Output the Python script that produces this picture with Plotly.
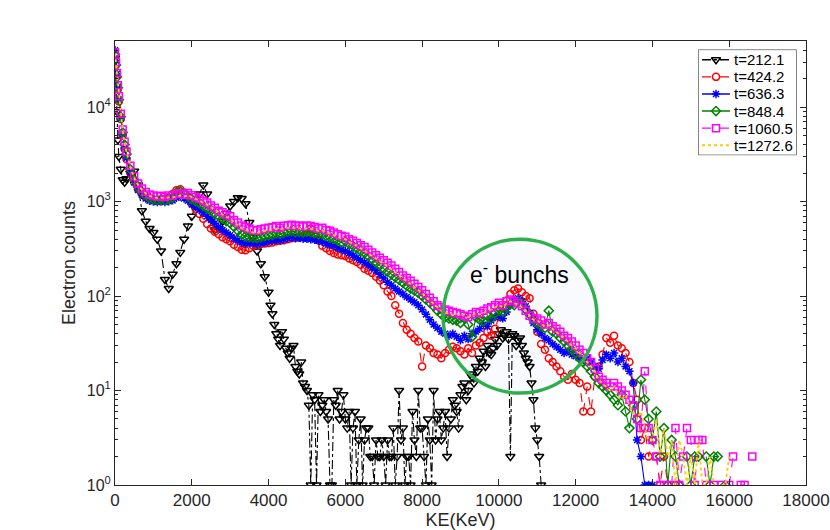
import plotly.graph_objects as go

# Energy bins (KeV)
ke = [0, 25, 50, 75, 100, 150, 200, 250, 300] + list(range(400, 16700, 100))
# extra half-bins read for the t=212.1 curve in its noisy tail
ke_mid = list(range(4050, 11100, 100))

labels = ["t=212.1", "t=424.2", "t=636.3", "t=848.4", "t=1060.5", "t=1272.6"]

t212 = [33000, 20000, 9000, 4500, 3000, 2200, 1700, 1600, 1750,
        2000, 2100, 1500, 800, 620, 520,
        470, 400, 300, 150, 120, 170, 220, 290, 400, 550,
        700, 900, 1200, 1500, 1200, 650, 500, 520, 620, 750,
        900, 1000, 1100, 1080, 950, 600, 420, 300, 220, 160,
        110, 65, 40, 30, 35, 25, 28, 18, 15, 12,
        10, 1, 8, 9, 7, 6, 1, 8, 10, 6,
        5, 6, 4, 1, 5, 3, 4, 2, 3, 2,
        2, 3, 2, 1, 10, 4, 2, 1, 3, 10,
        4, 1, 3, 10, 5, 3, 6, 4, 8, 6,
        9, 12, 10, 14, 18, 22, 26, 30, 24, 35,
        40, 36, 42, 2, 38, 34, 30, 22, 18, 8,
        3, 1]
t212_mid = [80, 50, 35, 42, 28, 22, 30, 16, 20, 11,
            7, 9, 1, 6, 8, 5, 1, 7, 5, 9,
            4, 1, 6, 3, 1, 4, 2, 1, 2, 3,
            1, 2, 4, 2, 3, 1, 2, 6, 2, 4,
            2, 5, 1, 3, 6, 4, 2, 5, 7, 4,
            11, 8, 15, 12, 16, 20, 18, 25, 28, 30,
            44, 38, 35, 40, 30, 36, 25, 20, 12, 4,
            2]

t424 = [35000, 28000, 21000, 15500, 11500, 7500, 5000, 3600, 2800,
        2000, 1600, 1350, 1200, 1110, 1060,
        1040, 1030, 1050, 1060, 1100, 1200, 1320, 1350, 1250, 1100,
        950, 840, 740, 660, 580, 520, 480, 450, 420, 400,
        380, 350, 330, 310, 305, 320, 340, 350, 355, 360,
        365, 370, 380, 385, 390, 400, 410, 415, 420, 430,
        450, 520, 430, 390, 340, 320, 300, 285, 275, 270,
        265, 250, 240, 230, 215, 195, 185, 175, 160, 146,
        130, 112, 100, 80, 65, 52, 44, 40, 36, 33,
        18, 30, 28, 25, 24, 22, 25, 27, 29, 28,
        26, 24, 28, 25, 30, 32, 36, 42, 38, 45,
        60, 75, 90, 105, 115, 120, 110, 100, 95, 65,
        42, 31, 27, 22, 20, 18, 16, 14, 13, 15,
        13, 12, 6, 11, 6, 14, 18, 24, 36, 32,
        38, 30, 28, 25, 20, 12, 8, 3, 4, 2,
        3, 2, 1, 2, 1, None, 1, 1]

t636 = [40000, 31000, 22500, 16500, 12000, 7600, 5100, 3700, 2900,
        2050, 1600, 1330, 1180, 1080, 1020,
        1000, 990, 1000, 990, 1010, 1030, 1100, 1130, 1080, 1020,
        930, 880, 820, 760, 700, 640, 590, 540, 500, 470,
        440, 410, 390, 370, 360, 365, 360, 355, 365, 370,
        380, 385, 395, 390, 400, 410, 420, 410, 415, 405,
        405, 400, 395, 385, 375, 360, 350, 340, 325, 312,
        300, 285, 270, 255, 240, 228, 215, 200, 186, 170,
        155, 140, 130, 120, 112, 105, 98, 92, 86, 80,
        72, 64, 56, 50, 46, 42, 40, 38, 40, 37,
        34, 38, 35, 40, 42, 45, 50, 48, 55, 60,
        62, 58, 68, 80, 90, 95, 88, 78, 66, 52,
        44, 40, 36, 34, 31, 29, 27, 25, 26, 24,
        23, 22, 21, 22, 20, 18, 17, 21, 24, 22,
        25, 20, 22, 18, 16, 12, 3, 2, 1, 1,
        1]

t848 = [36000, 28000, 21000, 16000, 12000, 7900, 5400, 4000, 3200,
        2200, 1700, 1430, 1270, 1160, 1090,
        1060, 1040, 1050, 1040, 1070, 1100, 1250, 1280, 1200, 1140,
        1060, 1010, 960, 900, 850, 800, 750, 700, 660, 620,
        590, 540, 490, 450, 430, 420, 415, 410, 420, 430,
        440, 445, 460, 455, 470, 480, 490, 475, 480, 470,
        480, 475, 465, 450, 455, 430, 420, 405, 385, 370,
        380, 355, 340, 320, 300, 285, 265, 245, 225, 210,
        195, 182, 170, 158, 148, 138, 128, 120, 114, 108,
        100, 92, 85, 78, 70, 64, 60, 58, 56, 55,
        52, 58, 50, 37, 60, 56, 54, 62, 58, 66,
        70, 68, 76, 82, 80, 88, 82, 72, 64, 56,
        52, 48, 46, 70, 42, 40, 36, 33, 30, 27,
        25, 22, 20, 18, 16, 14, 12, 11, 10, 9,
        8, 7, 9, 6, 4, 7, 5, 13, 8, 5,
        3, 6, 2, 4, 1, 3, 2, 1, None, 2,
        1, 2, 2, None, 2, 1, 2, 2, None, 1]

t1060 = [38000, 30000, 23000, 17000, 13000, 8500, 5800, 4300, 3400,
         2400, 1850, 1550, 1380, 1260, 1190,
         1160, 1130, 1150, 1120, 1160, 1150, 1200, 1220, 1180, 1230,
         1170, 1120, 1080, 1020, 980, 910, 860, 800, 770, 730,
         700, 640, 600, 560, 540, 520, 500, 495, 510, 520,
         530, 535, 550, 530, 555, 560, 570, 550, 560, 545,
         560, 550, 540, 520, 530, 500, 490, 470, 450, 435,
         425, 400, 385, 365, 345, 330, 310, 290, 270, 255,
         240, 225, 210, 195, 180, 165, 155, 145, 135, 125,
         115, 105, 96, 88, 80, 76, 72, 70, 68, 66,
         64, 62, 60, 64, 68, 66, 70, 74, 76, 80,
         85, 80, 88, 92, 88, 84, 78, 70, 62, 58,
         58, 55, 50, 52, 48, 45, 42, 38, 36, 33,
         30, 27, 25, 22, 20, 17, 14, 13, 12, 11,
         12, 11, 10, 9, 8, 7, 5, 4, 16, 4,
         3, 2, 1, 1, None, 1, 4, 1, 2, 4,
         3, 1, 3, 3, 1, None, 1, None, 1, None,
         1, 2, None, 1, 1, None, 2]

t1272 = [37000, 29000, 22000, 16500, 12500, 8200, 5600, 4100, 3300,
         2300, 1780, 1500, 1330, 1220, 1150,
         1110, 1090, 1100, 1080, 1110, 1100, 1140, 1160, 1130, 1170,
         1110, 1070, 1030, 970, 930, 870, 820, 770, 730, 690,
         660, 600, 560, 520, 500, 485, 470, 465, 480, 490,
         495, 500, 515, 505, 520, 525, 530, 520, 520, 510,
         520, 515, 505, 490, 495, 470, 460, 440, 420, 405,
         400, 375, 360, 340, 320, 305, 285, 265, 250, 235,
         220, 205, 192, 178, 166, 154, 144, 134, 126, 118,
         108, 98, 90, 82, 75, 70, 66, 66, 63, 65,
         62, 64, 60, 62, 66, 64, 66, 70, 72, 76,
         80, 76, 84, 88, 84, 82, 76, 70, 62, 56,
         55, 52, 47, 49, 45, 42, 39, 36, 33, 30,
         28, 25, 23, 20, 18, 16, 13, 12, 11, 10,
         11, 9, 8, 9, 7, 6, 5, 6, 4, 3,
         3, 5, 2, 4, 2, 3, 1, 3, 2, 1,
         2, 1, 3, 1, 1, 2, 1, None, 1, 1,
         2]

styles = [
    dict(color="black", dash="dashdot", symbol="triangle-down-open", size=8),
    dict(color="rgb(255,0,0)", dash="dash", symbol="circle-open", size=7),
    dict(color="rgb(0,0,255)", dash="solid", symbol="asterisk-open", size=7),
    dict(color="rgb(0,128,0)", dash="solid", symbol="diamond-open", size=7),
    dict(color="rgb(255,0,255)", dash="dash", symbol="square-open", size=7),
    dict(color="rgb(255,204,0)", dash="dot", symbol=None, size=0),
]

# merge the half-bin readings of t=212.1 into one sorted curve
black_pairs = sorted(list(zip(ke[:len(t212)], t212)) + list(zip(ke_mid, t212_mid)))
curves = [
    ([p[0] for p in black_pairs], [p[1] for p in black_pairs]),
    (ke[:len(t424)], t424),
    (ke[:len(t636)], t636),
    (ke[:len(t848)], t848),
    (ke[:len(t1060)], t1060),
    (ke[:len(t1272)], t1272),
]

fig = go.Figure()
for lab, (x, vals), st in zip(labels, curves, styles):
    if st["symbol"] is None:
        fig.add_trace(go.Scatter(x=x, y=vals, name=lab, mode="lines", showlegend=False,
                                 line=dict(color=st["color"], dash=st["dash"], width=1.8)))
    else:
        fig.add_trace(go.Scatter(x=x, y=vals, name=lab, mode="lines+markers", showlegend=False,
                                 line=dict(color=st["color"], dash=st["dash"], width=1.1),
                                 marker=dict(symbol=st["symbol"], size=st["size"], color=st["color"],
                                             line=dict(color=st["color"], width=1.5))))

axis_col = "#262626"
font_fam = "Liberation Sans, Arial, sans-serif"

ytickvals = [1, 10, 100, 1000, 10000]
yticktext = ["10<sup>0</sup>", "10<sup>1</sup>", "10<sup>2</sup>", "10<sup>3</sup>", "10<sup>4</sup>"]
yminor = [k * 10 ** d for d in range(0, 5) for k in range(2, 10)]
xtickvals = [0, 2000, 4000, 6000, 8000, 10000, 12000, 14000, 16000, 18000]
xticktext = [str(v) for v in xtickvals]

# Legend box drawn on a helper axis measured in pixels
LX0, LX1, LY0, LY1 = 698.3, 796.7, 49.3, 155.0
PL, PR, PT, PB = 115.0, 806.0, 40.7, 485.0
leg_rows = [59.5 + 17.1 * i for i in range(6)]

fig.update_layout(
    width=830, height=530,
    margin=dict(l=115, r=24, t=41, b=45, autoexpand=False),
    paper_bgcolor="white", plot_bgcolor="white",
    font=dict(family=font_fam, size=16, color=axis_col),
    showlegend=False,
    xaxis=dict(range=[0, 18000], tickmode="array", tickvals=xtickvals, ticktext=xticktext,
               ticks="inside", ticklen=6, tickcolor=axis_col, showline=True,
               linecolor=axis_col, linewidth=1, mirror="ticks", showgrid=False, automargin=False,
               zeroline=False, tickfont=dict(size=17),
               title=dict(text="KE(KeV)", standoff=3, font=dict(size=18))),
    yaxis=dict(type="log", range=[0, 4.7], tickmode="array", tickvals=ytickvals,
               ticktext=yticktext, ticks="inside", ticklen=6, tickcolor=axis_col,
               showline=True, linecolor=axis_col, linewidth=1, mirror="ticks",
               showgrid=False, zeroline=False, automargin=False, tickfont=dict(size=16),
               minor=dict(tickmode="array", tickvals=yminor, ticks="inside", ticklen=3,
                          tickcolor=axis_col, showgrid=False),
               title=dict(text="Electron counts", standoff=6, font=dict(size=18))),
    xaxis2=dict(domain=[(LX0 - PL) / (PR - PL), (LX1 - PL) / (PR - PL)], range=[LX0, LX1],
                anchor="y2", visible=False, fixedrange=True),
    yaxis2=dict(domain=[(PB - LY1) / (PB - PT), (PB - LY0) / (PB - PT)], range=[LY1, LY0],
                anchor="x2", visible=False, fixedrange=True),
)

# legend frame
fig.add_shape(type="rect", xref="x2", yref="y2", x0=LX0, x1=LX1, y0=LY0, y1=LY1,
              fillcolor="white", line=dict(color=axis_col, width=1), layer="below")
for lab, st, yc in zip(labels, styles, leg_rows):
    lw = 1.8 if st["symbol"] is None else 1.4
    fig.add_trace(go.Scatter(x=[702, 730], y=[yc, yc], xaxis="x2", yaxis="y2", mode="lines",
                             showlegend=False, hoverinfo="skip",
                             line=dict(color=st["color"], dash=st["dash"], width=lw)))
    if st["symbol"] is not None:
        fig.add_trace(go.Scatter(x=[716], y=[yc], xaxis="x2", yaxis="y2", mode="markers",
                                 showlegend=False, hoverinfo="skip",
                                 marker=dict(symbol=st["symbol"], size=st["size"], color=st["color"],
                                             line=dict(color=st["color"], width=1.5))))
    fig.add_annotation(x=731.5, y=yc, xref="x2", yref="y2", text=lab, showarrow=False,
                       xanchor="left", yanchor="middle",
                       font=dict(size=15, color="black", family=font_fam))

# Circle highlighting the electron bunches
fig.add_shape(type="circle", xref="paper", yref="paper",
              x0=0.4747, x1=0.6975, y0=0.2071, y1=0.5537,
              fillcolor="rgb(248,250,253)", line=dict(width=0), layer="below")
fig.add_shape(type="circle", xref="paper", yref="paper",
              x0=0.4747, x1=0.6975, y0=0.2071, y1=0.5537,
              line=dict(color="rgb(45,176,75)", width=3.5), layer="above")
fig.add_annotation(x=0.586, y=0.477, xref="paper", yref="paper",
                   text="e<sup>-</sup> bunchs", showarrow=False,
                   font=dict(size=23, color="black", family=font_fam))

fig.write_html("out.html", config={"displayModeBar": False},
               post_script="document.body.style.margin='0';document.body.style.overflow='hidden';")
